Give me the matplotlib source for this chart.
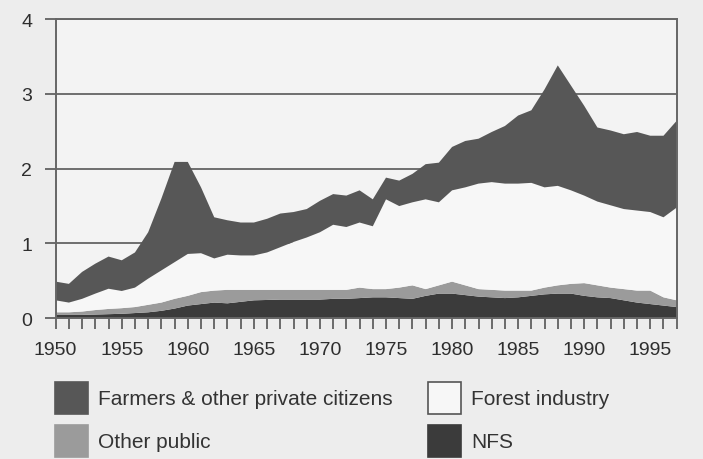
import matplotlib
matplotlib.use("Agg")
import matplotlib.pyplot as plt
from matplotlib.patches import Rectangle
import numpy as np

years = list(range(1950, 1998))

nfs = [0.045, 0.045, 0.045, 0.05, 0.055, 0.06, 0.07, 0.08, 0.10, 0.13,
       0.17, 0.19, 0.21, 0.20, 0.22, 0.24, 0.245, 0.25, 0.25, 0.25,
       0.25, 0.26, 0.26, 0.27, 0.28, 0.28, 0.27, 0.26, 0.30, 0.33,
       0.33, 0.31, 0.29, 0.28, 0.27, 0.28, 0.30, 0.32, 0.33, 0.33,
       0.30, 0.28, 0.27, 0.24, 0.21, 0.19, 0.17, 0.15]

other_public = [0.035, 0.035, 0.045, 0.06, 0.07, 0.075, 0.08, 0.10, 0.11, 0.13,
                0.13, 0.16, 0.16, 0.18, 0.16, 0.14, 0.135, 0.13, 0.13, 0.13,
                0.13, 0.12, 0.12, 0.14, 0.11, 0.11, 0.14, 0.18, 0.09, 0.11,
                0.16, 0.13, 0.10, 0.10, 0.10, 0.09, 0.07, 0.09, 0.11, 0.13,
                0.17, 0.16, 0.14, 0.15, 0.16, 0.18, 0.11, 0.09]

forest_industry = [0.16, 0.13, 0.17, 0.22, 0.27, 0.23, 0.26, 0.35, 0.43, 0.49,
                   0.56, 0.52, 0.43, 0.47, 0.46, 0.46, 0.50, 0.57, 0.64, 0.70,
                   0.77, 0.87, 0.84, 0.87, 0.84, 1.20, 1.09, 1.11, 1.20, 1.11,
                   1.22, 1.31, 1.41, 1.44, 1.43, 1.43, 1.44, 1.34, 1.33, 1.25,
                   1.17, 1.12, 1.10, 1.07, 1.07, 1.05, 1.07, 1.24]

farmers = [0.25, 0.25, 0.36, 0.40, 0.43, 0.41, 0.47, 0.62, 0.96, 1.34,
           1.23, 0.88, 0.55, 0.46, 0.44, 0.44, 0.45, 0.45, 0.40, 0.38,
           0.42, 0.41, 0.42, 0.43, 0.36, 0.29, 0.34, 0.38, 0.47, 0.53,
           0.58, 0.62, 0.60, 0.67, 0.77, 0.91, 0.97, 1.31, 1.61, 1.40,
           1.20, 0.99, 1.00, 1.00, 1.05, 1.02, 1.09, 1.16]

labels = ["NFS", "Other public", "Forest industry",
          "Farmers & other private citizens"]
colors = ["#3b3b3b", "#9b9b9b", "#f7f7f7", "#575757"]

yticks = [0, 1, 2, 3, 4]
xlabel_years = list(range(1950, 2000, 5))

plt.rcParams['font.family'] = ['Liberation Sans', 'DejaVu Sans']

fig = plt.figure(figsize=(7.03, 4.60), dpi=100)
fig.patch.set_facecolor("#ededed")
ax = fig.add_axes([0.0792, 0.3059, 0.8834, 0.6506])
ax.set_facecolor("#f3f3f3")

ax.stackplot(years, nfs, other_public, forest_industry, farmers,
             colors=colors, linewidth=0, zorder=2)

ax.set_xlim(1950, 1997)
ax.set_ylim(0, 4)
for y in yticks[1:]:
    ax.axhline(y, color="#6e6e6e", lw=1.4, zorder=1)

ax.set_yticks(yticks)
ax.set_xticks(years)
ax.set_xticklabels([str(y) if y in xlabel_years else "" for y in years])
ax.tick_params(axis="both", direction="out", length=8, width=1.2,
               colors="#555555", labelcolor="#2e2e2e", labelsize=14)
ax.tick_params(axis="y", pad=9)
ax.tick_params(axis="x", pad=8)
for s in ["left", "bottom", "right", "top"]:
    ax.spines[s].set_color("#666666")
    ax.spines[s].set_linewidth(1.4)
    ax.spines[s].set_zorder(3)

# legend (manual layout, two columns)
W, H = 703.0, 460.0
items = [
    (labels[3], colors[3], 55, 383, False),
    (labels[2], colors[2], 428, 383, True),
    (labels[1], colors[1], 55, 426, False),
    (labels[0], colors[0], 428, 426, False),
]
for text, c, px, py, edge in items:
    r = Rectangle((px / W, 1 - (py + 32) / H), 33 / W, 32 / H,
                  transform=fig.transFigure, facecolor=c,
                  edgecolor="#555555" if edge else c, lw=1.2)
    fig.add_artist(r)
    fig.text((px + 43) / W, 1 - (py + 17) / H, text, fontsize=15,
             color="#333333", va="center", ha="left")

fig.savefig("out.png", dpi=100, facecolor=fig.get_facecolor())
